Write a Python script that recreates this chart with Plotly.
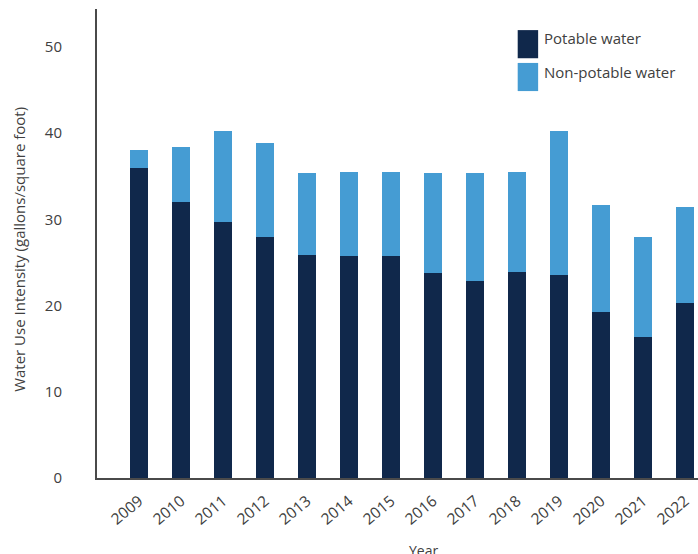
import plotly.graph_objects as go

years = ["2009", "2010", "2011", "2012", "2013", "2014", "2015",
         "2016", "2017", "2018", "2019", "2020", "2021", "2022"]
potable = [35.9, 32.0, 29.7, 27.9, 25.9, 25.7, 25.8,
           23.8, 22.9, 23.9, 23.6, 19.3, 16.3, 20.3]
totals = [38.1, 38.4, 40.3, 38.8, 35.4, 35.5, 35.5,
          35.4, 35.4, 35.5, 40.2, 31.7, 27.9, 31.4]
non_potable = [round(t - p, 2) for t, p in zip(totals, potable)]

series_names = ["Potable water", "Non-potable water"]
colors = ["#10284B", "#459CD3"]

FONT = "Open Sans"
TXT = "#404040"

fig = go.Figure()
for name, vals, col in zip(series_names, [potable, non_potable], colors):
    fig.add_trace(go.Bar(x=years, y=vals, name=name, marker_color=col,
                         marker_line_width=0, width=0.43, showlegend=False))

# custom legend (large swatches as in the reference)
swatch_y = [0.925, 0.855]
text_y = [0.938, 0.866]
for name, col, sy, ty in zip(series_names, colors, swatch_y, text_y):
    fig.add_shape(type="rect", xref="paper", yref="paper",
                  x0=0.700, x1=0.734, y0=sy - 0.03, y1=sy + 0.03,
                  fillcolor=col, line_width=0)
    fig.add_annotation(text=name, xref="paper", yref="paper",
                       x=0.741, y=ty, xanchor="left", yanchor="middle",
                       showarrow=False, font=dict(family=FONT, size=15, color=TXT))

fig.add_annotation(text="Year", xref="paper", yref="paper",
                   x=0.544, y=-0.155, xanchor="center", yanchor="middle",
                   showarrow=False, font=dict(family=FONT, size=14, color=TXT))

fig.add_annotation(text="Water Use Intensity (gallons/square foot)",
                   xref="paper", yref="paper", x=-0.131, y=0.487,
                   xanchor="center", yanchor="middle", textangle=-90,
                   showarrow=False, font=dict(family=FONT, size=15, color=TXT))

fig.update_layout(
    width=698, height=554,
    margin=dict(l=97, r=0, t=9, b=76),
    barmode="stack",
    plot_bgcolor="white", paper_bgcolor="white",
    font=dict(family=FONT, size=15, color=TXT),
    xaxis=dict(type="category", range=[-1.0, 13.31], tickangle=-40,
               showline=True, linecolor="#4a4a4a", linewidth=2,
               showgrid=False, ticks="", ticklabelstandoff=6,
               automargin=False,
               tickfont=dict(family=FONT, size=15.5, color=TXT)),
    yaxis=dict(range=[0, 54.4], tickvals=[0, 10, 20, 30, 40, 50],
               showline=True, linecolor="#4a4a4a", linewidth=2,
               showgrid=False, zeroline=False, ticks="",
               ticklabelstandoff=30, automargin=False,
               tickfont=dict(family=FONT, size=15, color=TXT)),
)

fig.write_html("out.html", config={"displayModeBar": False},
               post_script="document.body.style.margin='0';document.body.style.overflow='hidden';")
